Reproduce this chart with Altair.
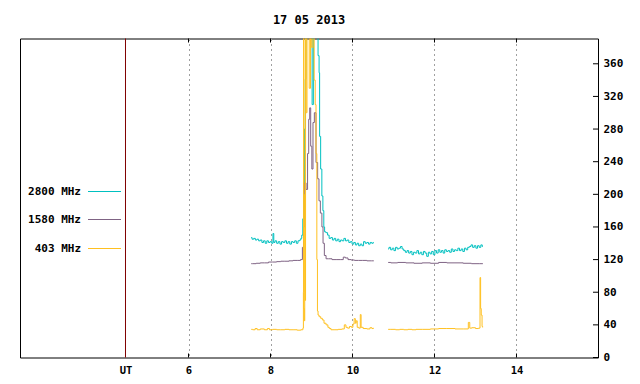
import altair as alt
import pandas as pd

TITLE = "17 05 2013"
SERIES = ["2800 MHz", "1580 MHz", "403 MHz"]
COLORS = ["#00c0c0", "#7f6384", "#ffc020"]
UT_POS = 4.463
X_TICKS = [6, 8, 10, 12, 14]
Y_TICKS = [0, 40, 80, 120, 160, 200, 240, 280, 320, 360]

# ---- 2800 MHz (teal) ----
T1_H = [7.53, 7.57, 7.61, 7.65, 7.69, 7.73, 7.77, 7.81, 7.85, 7.89, 7.93, 7.97, 8.01, 8.05, 8.07, 8.09,
        8.13, 8.17, 8.21, 8.25, 8.29, 8.33, 8.37, 8.41, 8.45, 8.49, 8.53, 8.57, 8.61, 8.65, 8.69, 8.73,
        8.75, 8.775, 8.80, 8.815, 8.84, 8.856, 8.87, 8.95, 9.00, 9.03, 9.06, 9.14, 9.18, 9.19, 9.206,
        9.24, 9.265, 9.29, 9.31, 9.33,
        9.375, 9.41, 9.45, 9.49, 9.53, 9.57, 9.61, 9.65, 9.69, 9.73, 9.77, 9.81, 9.85, 9.89, 9.93,
        9.97, 10.01, 10.05, 10.09, 10.13, 10.17, 10.21, 10.25, 10.29, 10.33, 10.37, 10.41, 10.45,
        10.49, 10.52]
T1_V = [147, 145, 146, 144, 145, 143, 144, 141, 143, 140, 143, 141, 142, 140, 152, 141,
        143, 140, 142, 139, 142, 141, 143, 140, 142, 139, 142, 141, 143, 140, 143, 144,
        146, 150, 170, 214, 280, 341, 430, 430, 430, 310, 430, 430, 370, 349, 271,
        231, 198, 180, 160, 154,
        153, 150, 146, 147, 144, 146, 143, 145, 142, 144, 143, 146, 143, 144, 141,
        142, 139, 141, 138, 140, 137, 139, 137, 142, 140, 141, 139, 141,
        140, 141]
T2_H = [10.87, 10.91, 10.95, 10.99, 11.03, 11.07, 11.11, 11.15, 11.19, 11.23, 11.27, 11.31, 11.35,
        11.39, 11.43, 11.47, 11.51, 11.55, 11.59, 11.63, 11.67, 11.71, 11.75, 11.79, 11.83, 11.87,
        11.91, 11.95, 11.99, 12.03, 12.07, 12.11, 12.15, 12.19, 12.23, 12.27, 12.31, 12.35, 12.39,
        12.43, 12.47, 12.51, 12.55, 12.59, 12.63, 12.67, 12.71, 12.75, 12.79, 12.83, 12.87, 12.91,
        12.95, 12.99, 13.03, 13.07, 13.11, 13.15, 13.18]
T2_V = [133, 135, 132, 134, 131, 135, 133, 134, 136, 133, 131, 129, 131,
        128, 130, 126, 129, 128, 131, 127, 129, 126, 130, 128, 124, 129,
        127, 130, 126, 131, 128, 132, 129, 131, 128, 132, 130, 131, 129,
        133, 130, 132, 131, 134, 131, 133, 130, 134, 132, 135, 136, 138,
        135, 137, 134, 137, 135, 138, 136]

# ---- 1580 MHz (purple) ----
P1_H = [7.53, 7.6, 7.7, 7.8, 7.9, 8.0, 8.1, 8.2, 8.3, 8.4, 8.5, 8.6, 8.7, 8.766,
        8.79, 8.82, 8.846, 8.888, 8.92, 8.944, 8.968, 8.993, 9.024, 9.049, 9.09, 9.13, 9.17,
        9.195, 9.237, 9.27, 9.293, 9.334,
        9.376, 9.45, 9.55, 9.65, 9.75, 9.80, 9.85, 9.93, 10.0, 10.1, 10.2, 10.3, 10.4, 10.52]
P1_V = [115, 115, 115.5, 116, 116, 117, 117, 117.5, 118, 118, 118.5, 119, 119, 120,
        135, 160, 214, 206, 250, 292, 306, 259, 231, 288, 300, 239, 219,
        192, 177, 160, 140, 125,
        121, 121, 120, 120, 120, 123, 122, 120, 119.5, 119, 119, 119, 118.5, 118.5]
P2_H = [10.87, 11.0, 11.2, 11.4, 11.6, 11.8, 12.0, 12.2, 12.4, 12.6, 12.8, 13.0, 13.18]
P2_V = [116.5, 116, 116.5, 116, 115.5, 116, 115.5, 116.5, 116, 116, 115.5, 115, 115]

# ---- 403 MHz (orange) ----
O1_H = [7.53, 7.6, 7.65, 7.7, 7.8, 7.9, 7.95, 8.0, 8.1, 8.2, 8.3, 8.4, 8.5, 8.6, 8.7, 8.78,
        8.80, 8.805, 8.81, 8.82, 8.83, 8.84, 8.85, 8.86, 8.88, 8.90, 8.93, 8.96, 8.99, 9.02, 9.05,
        9.08, 9.10, 9.12, 9.14,
        9.15, 9.17, 9.2, 9.25, 9.28, 9.33, 9.38, 9.42, 9.45, 9.5, 9.6, 9.7, 9.78, 9.82, 9.86, 9.9,
        9.95, 10.0, 10.02, 10.06, 10.08, 10.1, 10.13, 10.18, 10.2, 10.22, 10.3, 10.4, 10.45, 10.5, 10.52]
O1_V = [34.5, 34, 35.5, 34, 35, 34, 35.5, 34, 34.5, 34, 34, 34.5, 34, 34, 33.5, 34,
        36, 80, 430, 60, 45, 200, 70, 430, 300, 430, 430, 330, 430, 380, 430,
        340, 310, 250, 120,
        57, 52, 50, 48, 46, 42, 40, 37, 35.6, 34, 34, 34.5, 35, 40, 37, 36,
        38, 37, 41, 47.6, 42, 45, 37, 36, 52.6, 37, 35.5, 35, 36.5, 35.5, 36]
O2_H = [10.87, 11.0, 11.1, 11.2, 11.3, 11.4, 11.5, 11.6, 11.8, 12.0, 12.2, 12.4, 12.6, 12.8, 12.85,
        12.87, 12.95, 13.05, 13.1, 13.12, 13.13, 13.15, 13.17, 13.18]
O2_V = [34.5, 34.5, 34, 34.5, 34, 34.5, 34, 34.5, 34.5, 35, 35.5, 35.5, 35, 35, 43,
        36, 36.5, 35.5, 36, 98, 60, 52, 38, 37]

SEGMENTS = [
    (SERIES[0], "a", T1_H, T1_V), (SERIES[0], "b", T2_H, T2_V),
    (SERIES[1], "a", P1_H, P1_V), (SERIES[1], "b", P2_H, P2_V),
    (SERIES[2], "a", O1_H, O1_V), (SERIES[2], "b", O2_H, O2_V),
]
rows = []
for name, seg, hs, vs in SEGMENTS:
    for h, v in zip(hs, vs):
        rows.append({"series": name, "seg": name + seg, "h": h, "v": v})
df = pd.DataFrame(rows)

FONT = "DejaVu Sans Mono"
W, H = 578, 319

xscale = alt.Scale(domain=[1.890, 15.988], nice=False, zero=False)
yscale = alt.Scale(domain=[0, 391], nice=False, zero=True)
x_axis = alt.Axis(values=[UT_POS] + X_TICKS,
                  labelExpr="datum.value < 5 ? 'UT' : format(datum.value, 'd')",
                  ticks=False, domain=False, grid=True, gridColor="#a0a0a0",
                  gridDash=[2, 3], gridWidth=1, labelPadding=12.5, labelBaseline="middle",
                  labelFontSize=10.5, title=None, labelFlush=False)
y_axis = alt.Axis(orient="right", values=Y_TICKS, ticks=False, domain=False, grid=False,
                  labelPadding=5, title=None, labelFlush=False)
X = alt.X("h:Q", scale=xscale, axis=x_axis)
Y = alt.Y("v:Q", scale=yscale, axis=y_axis)

lines = alt.Chart(df).mark_line(interpolate="step", strokeWidth=1, clip=True).encode(
    x=X, y=Y,
    color=alt.Color("series:N", scale=alt.Scale(domain=SERIES, range=COLORS), legend=None),
    detail="seg:N",
    order=alt.Order("h:Q"),
)

ut_line = alt.Chart(pd.DataFrame({"h": [UT_POS]})).mark_rule(strokeWidth=1).encode(
    x=X, color=alt.value("#800000"))

xt = pd.DataFrame({"h": X_TICKS})
ticks_bottom = alt.Chart(xt).mark_rule(strokeWidth=1).encode(
    x=X, y=alt.value(H), y2=alt.value(H - 4), color=alt.value("black"))
ticks_top = alt.Chart(xt).mark_rule(strokeWidth=1).encode(
    x=X, y=alt.value(0), y2=alt.value(4), color=alt.value("black"))
ticks_right = alt.Chart(pd.DataFrame({"v": Y_TICKS})).mark_rule(strokeWidth=1).encode(
    y=Y, x=alt.value(W), x2=alt.value(W - 5), color=alt.value("black"))

LEG_Y = [153, 181, 210]
legend_layers = []
one = pd.DataFrame({"a": [0]})
for name, col, ly in zip(SERIES, COLORS, LEG_Y):
    legend_layers.append(
        alt.Chart(one).mark_text(text=name, align="right", baseline="middle", font=FONT,
                                 fontSize=11, fontWeight="bold")
        .encode(x=alt.value(61), y=alt.value(ly), color=alt.value("black")))
    legend_layers.append(
        alt.Chart(one).mark_rule(strokeWidth=1)
        .encode(x=alt.value(68), x2=alt.value(101), y=alt.value(ly), color=alt.value(col)))

chart = alt.layer(lines, ut_line, ticks_bottom, ticks_top, ticks_right, *legend_layers).properties(
    width=W, height=H,
    title=alt.Title(TITLE, font=FONT, fontSize=12, fontWeight="bold", color="black",
                    anchor="middle", offset=11),
    autosize=alt.AutoSizeParams(type="none"),
    padding={"left": 12, "top": 30.5, "right": 34, "bottom": 18.5},
    background="white",
).configure_view(stroke="black", strokeWidth=1).configure_axis(
    labelFont=FONT, labelFontSize=11, labelFontWeight="bold", labelColor="black"
)

chart.save("out.html", embed_options={"renderer": "svg", "actions": False})
